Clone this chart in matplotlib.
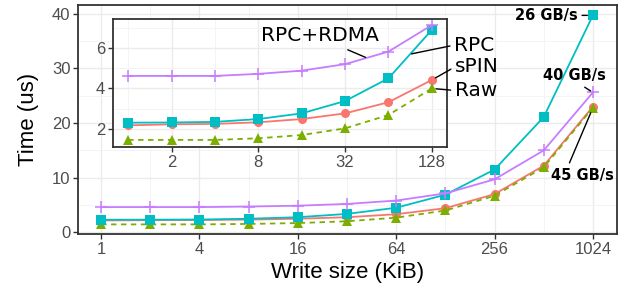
import numpy as np
import matplotlib.pyplot as plt
from matplotlib.ticker import FixedLocator, NullFormatter

plt.rcParams['font.family'] = ['Liberation Sans', 'DejaVu Sans']

# 数据
sizes = [1, 2, 4, 8, 16, 32, 64, 128, 256, 512, 1024]
spin = [2.18, 2.23, 2.25, 2.33, 2.49, 2.77, 3.32, 4.42, 7.0, 12.2, 23.0]
raw = [1.46, 1.46, 1.46, 1.54, 1.70, 2.03, 2.69, 4.0, 6.7, 11.9, 22.8]
rpc = [2.31, 2.32, 2.35, 2.49, 2.77, 3.38, 4.5, 6.89, 11.5, 21.1, 39.7]
rpc_rdma = [4.62, 4.62, 4.62, 4.72, 4.88, 5.2, 5.82, 7.13, 9.7, 15.0, 25.6]
bw_labels = ['26 GB/s', '40 GB/s', '45 GB/s']

series = [
    ('sPIN', spin, '#F8766D', 'o', '-'),
    ('Raw', raw, '#7CAE00', '^', (0, (3, 2.5))),
    ('RPC', rpc, '#00BFC4', 's', '-'),
    ('RPC+RDMA', rpc_rdma, '#C77CFF', '+', '-'),
]

grey = '#4D4D4D'


def style(ax, xmaj, xmin, ymaj, ymin):
    ax.set_xscale('log', base=2)
    ax.xaxis.set_major_locator(FixedLocator(xmaj))
    ax.xaxis.set_minor_locator(FixedLocator(xmin))
    ax.xaxis.set_minor_formatter(NullFormatter())
    ax.set_xticklabels([str(v) for v in xmaj])
    ax.yaxis.set_major_locator(FixedLocator(ymaj))
    ax.yaxis.set_minor_locator(FixedLocator(ymin))
    ax.set_yticklabels([str(v) for v in ymaj])
    ax.grid(which='major', color='#EBEBEB', lw=1.0)
    ax.grid(which='minor', color='#F2F2F2', lw=0.6)
    ax.set_axisbelow(True)
    ax.tick_params(which='major', length=3.5, width=1, color='#333333',
                   labelcolor=grey, labelsize=12, pad=2)
    ax.tick_params(which='minor', length=0)
    for s in ax.spines.values():
        s.set_color('#333333')
        s.set_linewidth(1.3)


def draw(ax, n):
    for name, ys, c, m, ls in series:
        ms = 9 if m == '+' else 6.5
        ax.plot(sizes[:n], ys[:n], color=c, marker=m, ls=ls, lw=1.3,
                ms=ms, mew=1.1 if m == '+' else 0, label=name)


fig = plt.figure(figsize=(6.27, 2.95), dpi=100)
ax = fig.add_axes([78 / 627, 61 / 295, 539 / 627, 229 / 295])
draw(ax, len(sizes))
style(ax, [1, 4, 16, 64, 256, 1024], [0.5, 2, 8, 32, 128, 512],
      [0, 10, 20, 30, 40], [5, 15, 25, 35])
ax.set_xlim(2 ** -0.47, 2 ** 10.49)
ax.set_ylim(-0.3, 41.6)
ax.set_xlabel('Write size (KiB)', fontsize=16, labelpad=4)
ax.set_ylabel('Time (us)', fontsize=16, labelpad=9)

# 带宽标注
bold = dict(fontsize=10.5, fontweight='bold', family='DejaVu Sans')
line = dict(arrowstyle='-', color='black', lw=1)
ax.annotate(bw_labels[0], (sizes[-1], rpc[-1]), xytext=(-15, 0),
            textcoords='offset pixels', ha='right', va='center',
            arrowprops=dict(line, shrinkA=1, shrinkB=4, relpos=(1, 0.5)), **bold)
ax.annotate(bw_labels[1], (sizes[-1], rpc_rdma[-1]), xytext=(-18, 17),
            textcoords='offset pixels', ha='center', va='center',
            arrowprops=dict(line, shrinkA=2, shrinkB=2, relpos=(0.55, 0)), **bold)
ax.annotate(bw_labels[2], (sizes[-1], raw[-1]), xytext=(-10, -68),
            textcoords='offset pixels', ha='center', va='center',
            arrowprops=dict(line, shrinkA=2, shrinkB=4, relpos=(0.25, 1)), **bold)

# 小图
ins = fig.add_axes([113 / 627, 148 / 295, 334 / 627, 128 / 295])
ins.set_facecolor('white')
draw(ins, 8)
style(ins, [2, 8, 32, 128], [1, 4, 16, 64], [2, 4, 6], [1, 3, 5, 7])
ins.set_xlim(2 ** -0.35, 2 ** 7.35)
ins.set_ylim(1.11, 7.43)

lab = dict(fontsize=14.5, family='DejaVu Sans')
mid = lambda ys, i: (np.sqrt(sizes[i] * sizes[i + 1]), (ys[i] + ys[i + 1]) / 2)
ins.annotate('RPC+RDMA', mid(rpc_rdma, 5), xytext=(-47, 22),
             textcoords='offset pixels', ha='center', va='center',
             arrowprops=dict(line, shrinkA=3, shrinkB=1, relpos=(0.65, 0)),
             annotation_clip=False, **lab)
ins.annotate('RPC', mid(rpc, 6), xytext=(44, 9),
             textcoords='offset pixels', ha='left', va='center',
             arrowprops=dict(line, shrinkA=1, shrinkB=1, relpos=(0, 0.5)),
             annotation_clip=False, **lab)
ins.annotate('sPIN', (sizes[7], spin[7]), xytext=(23, 13),
             textcoords='offset pixels', ha='left', va='center',
             arrowprops=dict(line, shrinkA=1, shrinkB=3, relpos=(0, 0.5)),
             annotation_clip=False, **lab)
ins.annotate('Raw', (sizes[7], raw[7]), xytext=(23, -2),
             textcoords='offset pixels', ha='left', va='center',
             arrowprops=dict(line, shrinkA=1, shrinkB=3, relpos=(0, 0.5)),
             annotation_clip=False, **lab)

fig.savefig('out.png', dpi=100)
